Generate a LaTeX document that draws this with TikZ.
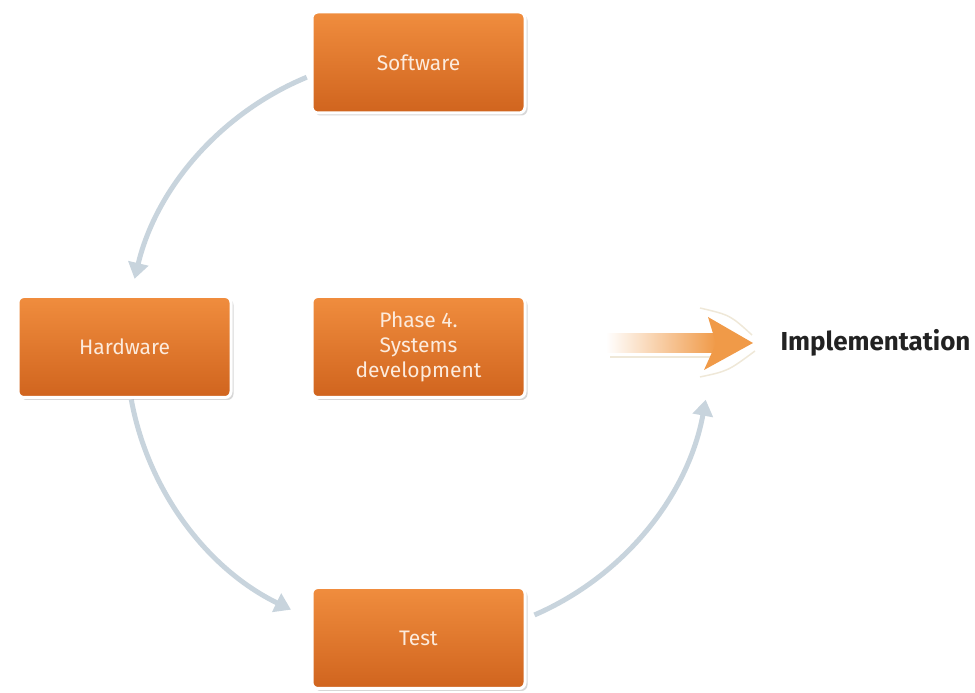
\documentclass[tikz,border=0pt]{standalone}
\usepackage{fontspec}
\setmainfont{Fira Sans}
\usetikzlibrary{arrows.meta,shadows,calc,backgrounds}
\definecolor{boxtop}{HTML}{F08D3E}
\definecolor{boxbot}{HTML}{D0641E}
\definecolor{conncol}{HTML}{C8D4DD}
\definecolor{arr}{HTML}{F09A48}
\definecolor{boxtext}{HTML}{FCEBDD}
\definecolor{impltext}{HTML}{222222}
\definecolor{swoosh}{HTML}{EFE8D8}
\begin{document}
\begin{tikzpicture}[x=1pt,y=1pt,
  box/.style={rounded corners=6pt, minimum width=213pt, minimum height=101pt,
    top color=boxtop, bottom color=boxbot, draw=white, line width=3pt,
    text=boxtext, font=\fontsize{21}{25}\selectfont, align=center,
    drop shadow={shadow xshift=2.5pt, shadow yshift=-2.5pt, opacity=0.35, fill=black!45}},
  conn/.style={draw=conncol, line width=5pt, -{Triangle[width=20pt,length=16pt]}}]
\useasboundingbox (0,0) rectangle (975,693);
\node[box] (sw) at (418.5,630.5) {Software};
\node[box] (hw) at (124.5,346) {Hardware};
\node[box] (ph) at (418.5,346) {Phase 4.\\Systems\\development};
\node[box] (ts) at (418.5,55) {Test};
\node[font=\bfseries\fontsize{26}{30}\selectfont, text=impltext, anchor=west] (impl) at (777,350) {Implementation};
\coordinate (c1) at ($(ph.center)+(112.5:292)$);
\coordinate (c2) at ($(ph.center)+(190.4:292)$);
\coordinate (c3) at ($(ph.center)+(-66.6:292)$);
\begin{scope}[on background layer]
\draw[conn] (c1) arc[start angle=112.5, end angle=166.5, radius=292];
\draw[conn] (c2) arc[start angle=190.4, end angle=244.1, radius=292];
\draw[conn] (c3) arc[start angle=-66.6, end angle=-10.4, radius=292];
\end{scope}
% implementation arrow
\draw[swoosh, line width=1.5pt] (610,336) -- (712,336);
\draw[swoosh, line width=1.5pt] (700,385) .. controls (730,378) .. (752,358);
\draw[swoosh, line width=1.5pt] (700,316) .. controls (728,322) .. (755,342);
\shade[left color=white, right color=arr] (606,340) rectangle (716,359);
\fill[arr] (708,376) -- (753,350) -- (704,323) -- (716,349.5) -- cycle;
\end{tikzpicture}
\end{document}
